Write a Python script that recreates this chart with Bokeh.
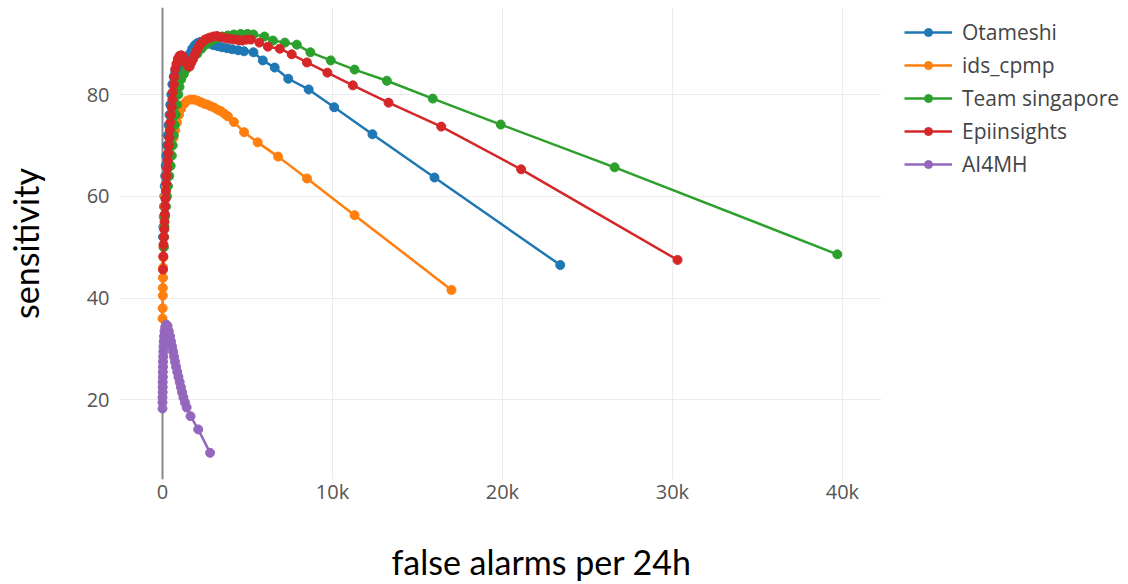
from bokeh.plotting import figure
from bokeh.models import Range1d, FixedTicker, Legend, LegendItem, Span, Title
from bokeh.embed import file_html
from bokeh.resources import INLINE

# x values in thousands of false alarms per 24h, y = sensitivity (%)
names = ["Otameshi", "ids_cpmp", "Team singapore", "Epiinsights", "AI4MH"]
colors = ["#1f77b4", "#ff7f0e", "#2ca02c", "#d62728", "#9467bd"]

otameshi_x = [0.03, 0.05, 0.07, 0.09, 0.11, 0.13, 0.16, 0.19, 0.23, 0.27, 0.31, 0.36, 0.41, 0.46, 0.52,
              0.58, 0.66, 0.75, 0.85, 0.95, 1.05, 1.15, 1.3, 1.45, 1.6, 1.75, 1.9, 2.05, 2.2, 2.4, 2.6,
              2.8, 3.0, 3.25, 3.5, 3.8, 4.1, 4.45, 4.8, 5.35, 5.9, 6.6, 7.4, 8.6, 10.1, 12.35, 16.0, 23.4]
otameshi_y = [52, 54, 56, 58, 60, 62, 64, 66, 68, 70, 72, 74, 76, 78, 80,
              82, 83.5, 84.5, 85.2, 85.5, 85.6, 85.5, 86, 87, 88, 89, 89.7, 90.1, 90.3, 90.4, 90.2,
              90, 89.7, 89.5, 89.3, 89.1, 88.9, 88.7, 88.5, 88.3, 86.7, 85.3, 83.1, 81.0, 77.5, 72.2, 63.7, 46.5]

ids_x = [0.0, 0.01, 0.02, 0.02, 0.03, 0.04, 0.05, 0.06, 0.07, 0.08, 0.1, 0.12, 0.15, 0.2, 0.26, 0.34,
         0.44, 0.55, 0.65, 0.75, 0.85, 0.97, 1.1, 1.28, 1.45, 1.65, 1.85, 2.05, 2.25, 2.45, 2.65, 2.85,
         3.05, 3.25, 3.45, 3.65, 3.85, 4.2, 4.8, 5.6, 6.8, 8.5, 11.3, 17.0]
ids_y = [36, 38, 40.5, 42, 44, 46, 48, 50, 52, 54, 56, 58, 60, 62, 64, 66,
         68, 70, 71.5, 73, 74.5, 76, 77.2, 78.2, 78.8, 79, 79, 78.8, 78.5, 78.2, 78, 77.7,
         77.4, 77.0, 76.7, 76.2, 75.7, 74.6, 72.6, 70.6, 67.8, 63.5, 56.3, 41.6]

sing_x = [0.08, 0.1, 0.12, 0.15, 0.2, 0.26, 0.32, 0.4, 0.48, 0.55, 0.6, 0.66, 0.72, 0.78, 0.85, 0.93,
          1.0, 1.1, 1.25, 1.4, 1.6, 1.8, 2.05, 2.3, 2.55, 2.85, 3.15, 3.5, 3.85, 4.2, 4.6, 5.0, 5.35,
          6.0, 6.5, 7.2, 7.9, 8.7, 9.9, 11.3, 13.2, 15.9, 19.9, 26.6, 39.7]
sing_y = [50, 52, 54, 56, 58, 60, 62, 64, 66, 68, 70, 72, 74, 76, 78, 80,
          81.5, 83, 84, 85, 86, 87, 88, 89, 89.8, 90.5, 91, 91.4, 91.6, 91.8, 91.9, 91.9, 91.8,
          91.4, 90.6, 90.2, 89.8, 88.3, 86.7, 84.9, 82.7, 79.2, 74.1, 65.7, 48.6]

epi_x = [0.03, 0.05, 0.06, 0.08, 0.1, 0.12, 0.14, 0.16, 0.18, 0.2, 0.22, 0.25, 0.28, 0.31, 0.34, 0.37,
         0.4, 0.43, 0.46, 0.5, 0.54, 0.58, 0.62, 0.66, 0.7, 0.75, 0.82, 0.9, 1.0, 1.1, 1.2, 1.3, 1.4,
         1.5, 1.6, 1.7, 1.8, 1.9, 2.0, 2.1, 2.2, 2.35, 2.5, 2.65, 2.8, 3.0, 3.2, 3.4, 3.6, 3.8, 4.05,
         4.3, 4.5, 4.7, 4.95, 5.2, 5.7, 6.2, 6.9, 7.6, 8.5, 9.7, 11.2, 13.3, 16.4, 21.1, 30.3]
epi_y = [45.6, 48.2, 50.5, 52, 53.5, 55, 56.5, 58, 59.5, 61, 62.5, 64, 65.5, 67, 68.5, 70,
         71.5, 73, 74.5, 76, 77.5, 79, 80.5, 82, 83.5, 85, 86, 87, 87.6, 87.7, 87.5, 86.8, 86.2,
         85.6, 85.5, 86.3, 87, 87.8, 88.5, 89.2, 89.8, 90.3, 90.8, 91, 91.2, 91.4, 91.5, 91.3, 91.2, 91.0, 90.9,
         90.8, 90.7, 90.6, 90.8, 90.8, 90.2, 89.4, 89.0, 87.9, 86.3, 84.3, 81.8, 78.4, 73.7, 65.3, 47.5]

ai_x = [0.0, 0.0, 0.0, 0.01, 0.01, 0.01, 0.02, 0.02, 0.03, 0.03, 0.04, 0.05, 0.06, 0.07, 0.09, 0.12,
        0.16, 0.22, 0.3, 0.37, 0.44, 0.5, 0.56, 0.62, 0.68, 0.74, 0.8, 0.87, 0.94, 1.01, 1.08, 1.15,
        1.23, 1.32, 1.42, 1.65, 2.1, 2.8]
ai_y = [18.3, 19.5, 20.5, 21.5, 22.5, 23.5, 24.5, 25.5, 26.5, 27.5, 28.5, 29.5, 30.5, 31.5, 32.5, 33.5,
        34.3, 34.8, 34.5, 33.5, 32.5, 31.5, 30.5, 29.5, 28.5, 27.5, 26.5, 25.5, 24.5, 23.5, 22.5, 21.5,
        20.5, 19.5, 18.5, 16.8, 14.2, 9.6]

x_ticks = [0, 10, 20, 30, 40]
x_tick_labels = ["0", "10k", "20k", "30k", "40k"]
y_ticks = [20, 40, 60, 80]

series = [(otameshi_x, otameshi_y), (ids_x, ids_y), (sing_x, sing_y), (epi_x, epi_y), (ai_x, ai_y)]

p = figure(frame_width=762, frame_height=472, output_backend="svg", toolbar_location=None,
           x_range=Range1d(-2.53, 42.3), y_range=Range1d(4.36, 97.1),
           min_border_left=119, min_border_right=0, min_border_top=7, min_border_bottom=0)
p.outline_line_color = None
p.background_fill_color = "white"

grid_color = "#ececec"
p.xgrid.ticker = FixedTicker(ticks=x_ticks[1:])
p.ygrid.ticker = FixedTicker(ticks=y_ticks)
p.xgrid.grid_line_color = grid_color
p.ygrid.grid_line_color = grid_color
p.xgrid.grid_line_width = 1
p.ygrid.grid_line_width = 1

p.add_layout(Span(location=0, dimension="height", line_color="#888888", line_width=2, level="underlay"))

p.xaxis.ticker = FixedTicker(ticks=x_ticks)
p.xaxis.major_label_overrides = {t: l for t, l in zip(x_ticks, x_tick_labels)}
p.yaxis.ticker = FixedTicker(ticks=y_ticks)
for ax in (p.xaxis, p.yaxis):
    ax.axis_line_color = None
    ax.major_tick_line_color = None
    ax.minor_tick_line_color = None
    ax.major_label_text_font = "Open Sans"
    ax.major_label_text_font_size = "20px"
    ax.major_label_text_color = "#555555"
p.xaxis.major_label_standoff = -8
p.yaxis.major_label_standoff = 4

p.yaxis.axis_label = "sensitivity"
p.yaxis.axis_label_text_font = "Lato"
p.yaxis.axis_label_text_font_size = "34px"
p.yaxis.axis_label_text_font_style = "normal"
p.yaxis.axis_label_text_color = "black"
p.yaxis.axis_label_standoff = 38

xt = Title(text="false alarms per 24h", align="left", offset=272, text_font="Lato",
           text_font_size="34px", text_font_style="normal", text_color="black", standoff=62)
p.add_layout(xt, "below")

items = []
for (xs, ys), name, c in zip(series, names, colors):
    l = p.line(xs, ys, line_color=c, line_width=2.5)
    s = p.scatter(xs, ys, size=9, fill_color=c, line_color=c)
    items.append(LegendItem(label=name, renderers=[l, s]))

legend = Legend(items=items, location=(23, 301), margin=0, padding=0,
                label_text_font="Open Sans", label_text_font_size="21px", label_text_color="#444444",
                glyph_width=48, glyph_height=20, label_height=20, spacing=5, label_standoff=10,
                border_line_color=None, background_fill_alpha=0)
p.add_layout(legend, "right")

open("out.html", "w").write(file_html(p, INLINE))
